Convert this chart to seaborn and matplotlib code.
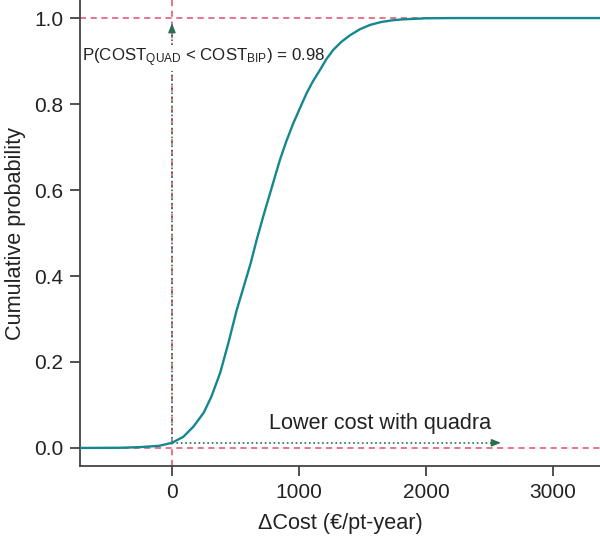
import numpy as np
import pandas as pd
import matplotlib
matplotlib.use('Agg')
import matplotlib.pyplot as plt
import seaborn as sns

# Cumulative probability curve
delta_cost = [-724, -400, -250, -100, 0, 90, 170, 250, 310, 380, 445, 510, 570,
              620, 667, 720, 780, 850, 900, 955, 1010, 1060, 1110, 1165, 1215,
              1270, 1335, 1402, 1480, 1559, 1650, 1742, 1820, 1900, 2000, 2200, 3370]
cum_prob = [0.0, 0.0005, 0.002, 0.005, 0.012, 0.026, 0.05, 0.082, 0.119, 0.175,
            0.245, 0.321, 0.38, 0.43, 0.484, 0.54, 0.60, 0.67, 0.713, 0.755,
            0.792, 0.825, 0.853, 0.879, 0.904, 0.926, 0.945, 0.960, 0.974,
            0.984, 0.991, 0.995, 0.997, 0.998, 0.9995, 1.0, 1.0]

x_ticks = [0, 1000, 2000, 3000]
y_ticks = [0.0, 0.2, 0.4, 0.6, 0.8, 1.0]
prob_at_zero = 0.012
arrow_x_end = 2590
arrow_y_end = 0.988
label_text = r'P(COST$_{\mathrm{QUAD}}$ < COST$_{\mathrm{BIP}}$) = 0.98'
lower_text = 'Lower cost with quadra'

sns.set_style('ticks')
plt.rcParams['font.family'] = ['Liberation Sans', 'DejaVu Sans']
plt.rcParams['mathtext.fontset'] = 'custom'
plt.rcParams['mathtext.rm'] = 'Liberation Sans'
plt.rcParams['mathtext.it'] = 'Liberation Sans:italic'
plt.rcParams['mathtext.bf'] = 'Liberation Sans:bold'

df = pd.DataFrame({'dcost': delta_cost, 'prob': cum_prob})

fig = plt.figure(figsize=(6, 5.39), dpi=100)
ax = fig.add_axes([0.1333, 0.1354, 0.8667, 0.8646])

teal = '#14878f'
red = '#e0506a'
green = '#2b6e4f'

# reference lines
ax.axhline(1.0, color=red, ls=(0, (4, 3)), lw=1.1, zorder=1)
ax.axhline(0.0, color=red, ls=(0, (4, 3)), lw=1.1, zorder=1)
ax.axvline(0, color=red, ls=(0, (4, 3)), lw=1.1, zorder=1)

sns.lineplot(data=df, x='dcost', y='prob', ax=ax, color=teal, lw=1.7, zorder=3,
             solid_joinstyle='round')

# green dotted arrows
ax.plot([0, 0], [prob_at_zero, arrow_y_end - 0.012], color=green, ls=':', lw=1.2, zorder=2)
ax.plot([0, arrow_x_end - 40], [prob_at_zero, prob_at_zero], color=green, ls=':', lw=1.2, zorder=2)
head = dict(arrowstyle='-|>,head_length=0.55,head_width=0.22', color=green, lw=1.0,
            shrinkA=0, shrinkB=0)
ax.annotate('', xy=(0, arrow_y_end), xytext=(0, arrow_y_end - 0.016), arrowprops=head)
ax.annotate('', xy=(arrow_x_end, prob_at_zero), xytext=(arrow_x_end - 60, prob_at_zero),
            arrowprops=head)

ax.text(-705, 0.907, label_text, fontsize=12.2, color='#222222', va='center', ha='left',
        bbox=dict(facecolor='white', edgecolor='none', pad=1), zorder=2.5)
ax.text(1640, 0.056, lower_text, fontsize=15.6, color='#222222', va='center', ha='center')

ax.set_xlim(-724, 3370)
ax.set_ylim(-0.042, 1.042)
ax.set_xticks(x_ticks)
ax.set_yticks(y_ticks)
ax.set_yticklabels([f'{v:.1f}' for v in y_ticks])
ax.tick_params(axis='both', labelsize=15, length=7, width=1.2, color='#333333',
               labelcolor='#222222', pad=5)
for s in ['left', 'bottom']:
    ax.spines[s].set_linewidth(1.3)
    ax.spines[s].set_color('#444444')
sns.despine(ax=ax)

ax.set_xlabel('ΔCost (€/pt-year)', fontsize=15.6, color='#222222', labelpad=8)
ax.set_ylabel('Cumulative probability', fontsize=15.6, color='#222222', labelpad=6)

fig.savefig('out.png', dpi=100)
